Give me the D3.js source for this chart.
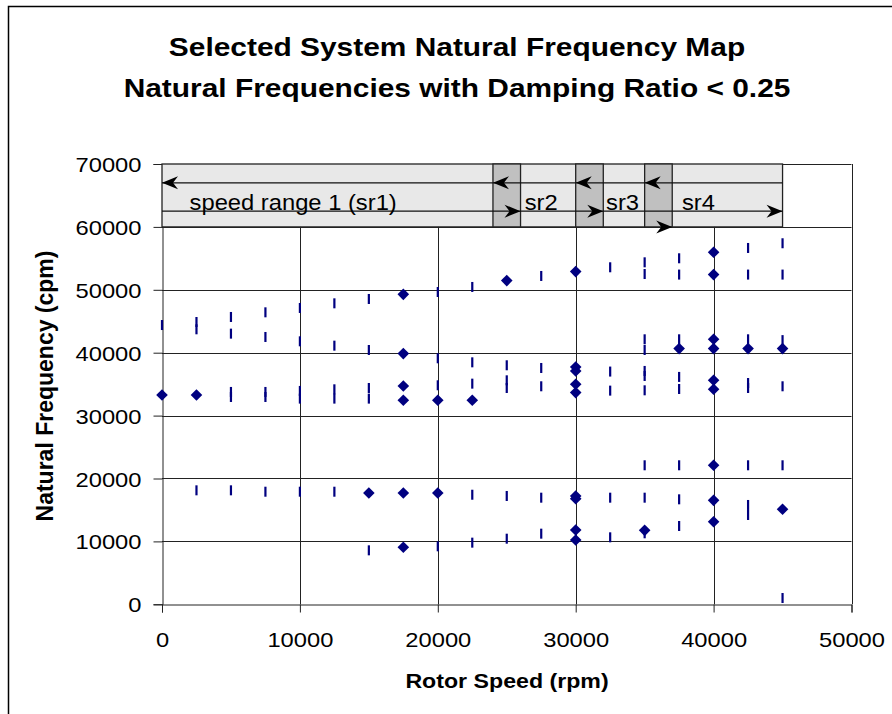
<!DOCTYPE html>
<html>
<head>
<meta charset="utf-8">
<script src="https://cdn.jsdelivr.net/npm/d3@7/dist/d3.min.js"></script>
<style>
  body { margin: 0; background: #fff; }
  text { font-family: Arial, "Liberation Sans", sans-serif; fill: #000; }
</style>
</head>
<body>
<script>
// rotor speeds the map was computed at (rpm)
const rotorSpeeds = [0, 2500, 5000, 7500, 10000, 12500, 15000, 17500, 20000, 22500,
  25000, 27500, 30000, 32500, 35000, 37500, 40000, 42500, 45000];

// natural frequencies with damping ratio < 0.25 (diamonds), one list per speed (cpm)
const lowDampFreqs = [
  [33280], [33280], [], [], [], [], [17690],
  [49280, 39860, 34710, 32430, 17690, 9060],
  [32430, 17690], [32430], [51460], [],
  [52890, 37730, 37090, 34980, 33660, 17220, 16790, 11810, 10220],
  [], [11760], [40650],
  [55960, 52420, 42130, 40650, 35610, 34180, 22100, 16530, 13130],
  [40650], [40650, 15100]
];

// the other natural frequencies (dashes), one list per speed (cpm)
const otherFreqs = [
  [44400],
  [44880, 43720, 18120],
  [45680, 43030, 33760, 32960, 18120],
  [46420, 42500, 33760, 32960, 17900],
  [47110, 41810, 33920, 32700, 17900],
  [47850, 41120, 34180, 32700, 17900],
  [48540, 40430, 34390, 32700, 8580],
  [],
  [49650, 39110, 34820, 9220],
  [50450, 38470, 35080, 17420, 9800],
  [38000, 35610, 34390, 17220, 10430],
  [52200, 37570, 34660, 16950, 11230],
  [],
  [53580, 37000, 33970, 16950, 10650],
  [54370, 52510, 42130, 40430, 37100, 36300, 34020, 22100, 16950, 11290],
  [55010, 52420, 42130, 36150, 34230, 22100, 16690, 12450],
  [],
  [56650, 52420, 42130, 35180, 34390, 22100, 15790, 14200],
  [57400, 52420, 42000, 34660, 22100, 1000]
];

// speed range annotation (rpm)
const rangeNames = ['speed range 1 (sr1)', 'sr2', 'sr3', 'sr4'];
const rangeStart = [0, 24000, 30000, 35000];
const rangeEnd = [26000, 32000, 37000, 45000];
const rangeLabelAt = [2000, 26300, 32200, 37700];
const rangeEndArrowFreq = [62500, 62500, 60000, 62500];
const startArrowFreq = 67000;
const endArrowFreq = 62500;
const boxFreq = [60000, 70000];

const xTicks = [0, 10000, 20000, 30000, 40000, 50000];
const yTicks = [0, 10000, 20000, 30000, 40000, 50000, 60000, 70000];

const W = 892, H = 714;
const svg = d3.select('body').append('svg')
  .attr('width', W).attr('height', H);

const x = d3.scaleLinear().domain([0, 50000]).range([162, 851.5]);
const y = d3.scaleLinear().domain([0, 70000]).range([604.3, 164]);

// outer chart border
svg.append('rect')
  .attr('x', 8.5).attr('y', 6.5).attr('width', 900).attr('height', 720)
  .attr('fill', '#fff').attr('stroke', '#000').attr('stroke-width', 1.5);

function stretched(sel, px, py, sx) {
  return sel.attr('transform', 'translate(' + px + ',' + py + ') scale(' + sx + ',1)');
}

// title
const titleLines = ['Selected System Natural Frequency Map', 'Natural Frequencies with Damping Ratio < 0.25'];
titleLines.forEach((t, i) => {
  stretched(svg.append('text'), 457, 56 + i * 40.5, 1.12)
    .attr('text-anchor', 'middle')
    .style('font-size', '26.7px').style('font-weight', 'bold')
    .text(t);
});

// grid
const grid = svg.append('g');
grid.selectAll('line.h').data(yTicks.slice(1)).enter().append('line')
  .attr('x1', x(0)).attr('x2', x(50000))
  .attr('y1', d => Math.round(y(d)) + 0.5).attr('y2', d => Math.round(y(d)) + 0.5)
  .attr('stroke', '#222');
grid.selectAll('line.v').data(xTicks.slice(1)).enter().append('line')
  .attr('x1', d => Math.round(x(d)) + 0.5).attr('x2', d => Math.round(x(d)) + 0.5)
  .attr('y1', y(0)).attr('y2', y(70000))
  .attr('stroke', '#222');

// axes
const xAxis = d3.axisBottom(x).tickValues(xTicks).tickSize(8).tickPadding(20).tickFormat(d3.format('d'));
const yAxis = d3.axisLeft(y).tickValues(yTicks).tickSize(9).tickPadding(12).tickFormat(d3.format('d'));

const gx = svg.append('g').attr('transform', 'translate(0,' + (Math.round(y(0)) + 0.5) + ')').call(xAxis);
const gy = svg.append('g').attr('transform', 'translate(' + (Math.round(x(0)) + 0.5) + ',0)').call(yAxis);
[gx, gy].forEach(g => {
  g.select('.domain').attr('stroke', '#222');
  g.selectAll('.tick line').attr('stroke', '#222');
  g.selectAll('.tick text').attr('fill', '#000')
    .style('font-size', '21px').style('font-family', 'Arial, "Liberation Sans", sans-serif');
});
gx.selectAll('.tick text').each(function () {
  d3.select(this).attr('transform', 'scale(1.13,1)').attr('x', 0);
});
gy.selectAll('.tick text').each(function () {
  d3.select(this).attr('transform', 'translate(-21,0) scale(1.13,1)').attr('x', 0).attr('dy', '0.36em');
});

// axis titles
stretched(svg.append('text'), 507, 688, 1.13)
  .attr('text-anchor', 'middle')
  .style('font-size', '20.5px').style('font-weight', 'bold')
  .text('Rotor Speed (rpm)');
svg.append('text')
  .attr('transform', 'translate(53,386) rotate(-90)')
  .attr('text-anchor', 'middle')
  .style('font-size', '23px').style('font-weight', 'bold')
  .text('Natural Frequency (cpm)');

// points
const dashPts = [];
const diamondPts = [];
rotorSpeeds.forEach((s, i) => {
  otherFreqs[i].forEach(f => dashPts.push({ s: s, f: f }));
  lowDampFreqs[i].forEach(f => diamondPts.push({ s: s, f: f }));
});

svg.append('g').selectAll('rect').data(dashPts).enter().append('rect')
  .attr('x', d => x(d.s) - 1.1).attr('y', d => y(d.f) - 5)
  .attr('width', 2.2).attr('height', 10)
  .attr('fill', '#000080');

const diamond = 'M0,-5.8L5.8,0L0,5.8L-5.8,0Z';
svg.append('g').selectAll('path').data(diamondPts).enter().append('path')
  .attr('transform', d => 'translate(' + x(d.s) + ',' + y(d.f) + ')')
  .attr('d', diamond)
  .attr('fill', '#000080');

// speed range box
const box = svg.append('g');
box.append('rect')
  .attr('x', x(0)).attr('y', y(boxFreq[1]))
  .attr('width', x(rangeEnd[3]) - x(0)).attr('height', y(boxFreq[0]) - y(boxFreq[1]))
  .attr('fill', '#e8e8e8').attr('stroke', '#222').attr('stroke-width', 1.3);
for (let i = 1; i < rangeStart.length; i++) {
  box.append('rect')
    .attr('x', x(rangeStart[i])).attr('y', y(boxFreq[1]))
    .attr('width', x(rangeEnd[i - 1]) - x(rangeStart[i]))
    .attr('height', y(boxFreq[0]) - y(boxFreq[1]))
    .attr('fill', '#c0c0c0').attr('stroke', '#222').attr('stroke-width', 1.3);
}
[startArrowFreq, endArrowFreq].forEach(f => {
  box.append('line')
    .attr('x1', x(0)).attr('x2', x(rangeEnd[3]))
    .attr('y1', y(f)).attr('y2', y(f))
    .attr('stroke', '#111').attr('stroke-width', 1.3);
});

const headLeft = 'M0,0L16,-6.5L11,0L16,6.5Z';
const headRight = 'M0,0L-16,-6.5L-11,0L-16,6.5Z';
rangeStart.forEach(s => {
  box.append('path')
    .attr('transform', 'translate(' + x(s) + ',' + y(startArrowFreq) + ')')
    .attr('d', headLeft).attr('fill', '#000');
});
rangeEnd.forEach((s, i) => {
  box.append('path')
    .attr('transform', 'translate(' + x(s) + ',' + y(rangeEndArrowFreq[i]) + ')')
    .attr('d', headRight).attr('fill', '#000');
});
rangeNames.forEach((n, i) => {
  stretched(box.append('text'), x(rangeLabelAt[i]), 209.5, 1.08)
    .style('font-size', '22px')
    .text(n);
});
</script>
</body>
</html>
